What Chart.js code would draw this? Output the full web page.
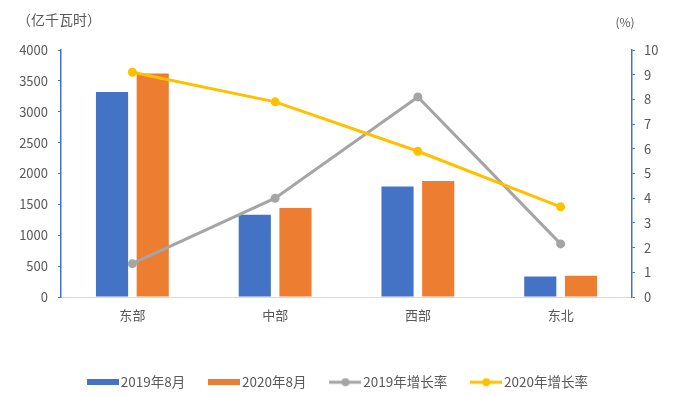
<!DOCTYPE html>
<html>
<head>
<meta charset="utf-8">
<script src="https://cdn.jsdelivr.net/npm/chart.js@4.4.0/dist/chart.umd.min.js"></script>
<style>
  html, body { margin: 0; padding: 0; background: #fff; }
  #wrap { width: 680px; height: 396px; }
</style>
</head>
<body>
<div id="wrap"><canvas id="chart"></canvas></div>
<script>
// Data
const categories = ['东部', '中部', '西部', '东北'];
const power2019 = [3320, 1330, 1790, 330];
const power2020 = [3620, 1440, 1880, 345];
const growth2019 = [1.35, 4.0, 8.1, 2.15];
const growth2020 = [9.1, 7.9, 5.9, 3.65];
const seriesNames = ['2019年8月', '2020年8月', '2019年增长率', '2020年增长率'];
const leftUnit = '（亿千瓦时）';
const rightUnit = '(%)';

const BLUE = '#4472C4';
const ORANGE = '#ED7D31';
const GRAY = '#A5A5A5';
const GOLD = '#FFC000';
const TEXT = '#595959';
const FONT = '"Noto Sans CJK SC", "Noto Sans", sans-serif';

// little legend icons
function barIcon(color) {
    const c = document.createElement('canvas');
    c.width = 32; c.height = 6;
    const ctx = c.getContext('2d');
    ctx.fillStyle = color;
    ctx.fillRect(0, 0, 32, 6);
    return c;
}
function lineIcon(color) {
    const c = document.createElement('canvas');
    c.width = 32; c.height = 10;
    const ctx = c.getContext('2d');
    ctx.strokeStyle = color;
    ctx.lineWidth = 3;
    ctx.beginPath();
    ctx.moveTo(0, 5);
    ctx.lineTo(32, 5);
    ctx.stroke();
    ctx.fillStyle = color;
    ctx.beginPath();
    ctx.arc(16, 5, 4, 0, Math.PI * 2);
    ctx.fill();
    return c;
}
const legendIcons = [barIcon(BLUE), barIcon(ORANGE), lineIcon(GRAY), lineIcon(GOLD)];

// unit labels above the two value axes
const unitLabels = {
    id: 'unitLabels',
    afterLayout(chart) {
        // nudge the legend row down a little
        chart.legend.top += 3;
        chart.legend.bottom += 3;
    },
    afterDraw(chart) {
        const ctx = chart.ctx;
        ctx.save();
        ctx.fillStyle = TEXT;
        ctx.textBaseline = 'middle';
        ctx.font = '14px ' + FONT;
        ctx.textAlign = 'left';
        ctx.fillText(leftUnit, 17, 20);
        ctx.font = '12px ' + FONT;
        ctx.textAlign = 'center';
        ctx.fillText(rightUnit, chart.scales.y1.left - 7, 22);
        ctx.restore();
    }
};

new Chart(document.getElementById('chart'), {
    type: 'bar',
    data: {
        labels: categories,
        datasets: [
            {
                label: seriesNames[0], data: power2019, backgroundColor: BLUE,
                yAxisID: 'y', order: 3, categoryPercentage: 0.57, barPercentage: 0.79
            },
            {
                label: seriesNames[1], data: power2020, backgroundColor: ORANGE,
                yAxisID: 'y', order: 3, categoryPercentage: 0.57, barPercentage: 0.79
            },
            {
                type: 'line', label: seriesNames[2], data: growth2019, yAxisID: 'y1',
                borderColor: GRAY, backgroundColor: GRAY, borderWidth: 3,
                pointRadius: 4.5, pointBackgroundColor: GRAY, pointBorderWidth: 0,
                pointStyle: 'circle', order: 2
            },
            {
                type: 'line', label: seriesNames[3], data: growth2020, yAxisID: 'y1',
                borderColor: GOLD, backgroundColor: GOLD, borderWidth: 3,
                pointRadius: 4.5, pointBackgroundColor: GOLD, pointBorderWidth: 0,
                pointStyle: 'circle', order: 1
            }
        ]
    },
    options: {
        responsive: true,
        maintainAspectRatio: false,
        animation: false,
        layout: { padding: { top: 50, left: 0, right: 0, bottom: 0 } },
        plugins: {
            legend: {
                position: 'bottom',
                labels: {
                    usePointStyle: true,
                    pointStyleWidth: 22,
                    color: TEXT,
                    font: { size: 13.5, family: FONT },
                    padding: 28,
                    generateLabels(chart) {
                        return chart.data.datasets.map((ds, i) => ({
                            text: ds.label,
                            pointStyle: legendIcons[i],
                            fillStyle: ds.backgroundColor,
                            strokeStyle: ds.backgroundColor,
                            lineWidth: 0,
                            fontColor: TEXT,
                            hidden: false,
                            datasetIndex: i
                        }));
                    }
                }
            },
            tooltip: { enabled: false }
        },
        scales: {
            x: {
                grid: { display: false, drawTicks: false },
                border: { color: '#D9D9D9', width: 1 },
                ticks: { color: TEXT, font: { size: 13, family: FONT }, padding: 10 },
                afterFit(scale) { scale.height = 47.5; }
            },
            y: {
                position: 'left',
                min: 0, max: 4000,
                ticks: {
                    stepSize: 500, color: TEXT, font: { size: 13, family: FONT }, padding: 10,
                    callback: v => String(v)
                },
                grid: { drawOnChartArea: false, color: BLUE, tickLength: 3 },
                border: { color: BLUE, width: 1.5 },
                afterFit(scale) { scale.width = 61; }
            },
            y1: {
                position: 'right',
                min: 0, max: 10,
                ticks: { stepSize: 1, color: TEXT, font: { size: 13, family: FONT }, padding: 9 },
                grid: { drawOnChartArea: false, color: BLUE, tickLength: 3 },
                border: { color: BLUE, width: 1.5 },
                afterFit(scale) { scale.width = 48; }
            }
        }
    },
    plugins: [unitLabels]
});
</script>
</body>
</html>
